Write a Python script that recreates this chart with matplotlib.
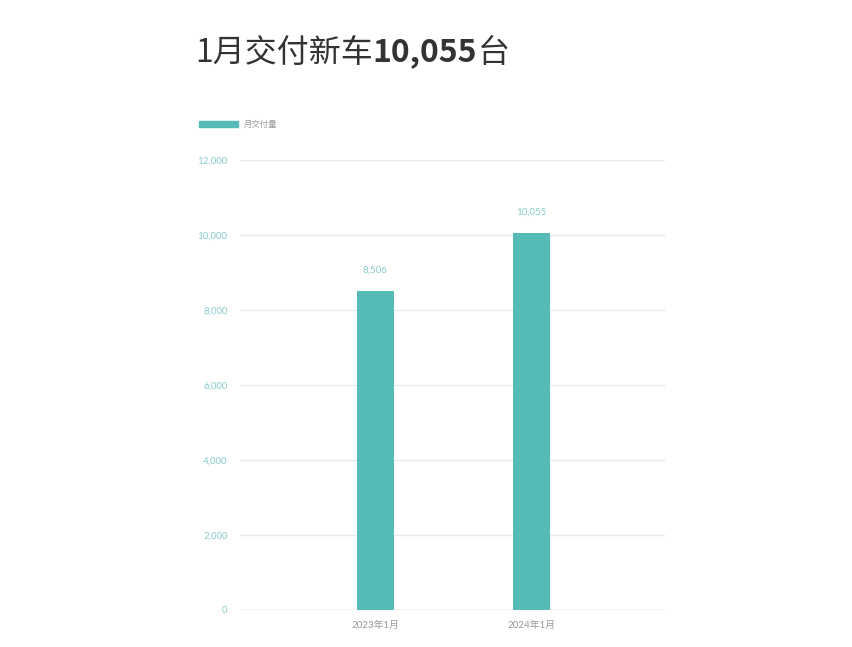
import matplotlib
matplotlib.use("Agg")
import matplotlib.pyplot as plt
from matplotlib.patches import Patch

plt.rcParams['font.family'] = ['Lato', 'Noto Sans CJK SC', 'DejaVu Sans']

# data
months = ['2023年1月', '2024年1月']
deliveries = [8506, 10055]
yticks = [0, 2000, 4000, 6000, 8000, 10000, 12000]
series_name = '月交付量'

bar_color = '#56bab7'
label_color = '#86cccb'
grid_color = '#e9e9e9'

fig = plt.figure(figsize=(8.52, 6.47), dpi=100)
ax = fig.add_axes([0.2817, 0.0572, 0.4988, 0.6955])

xpos = list(range(len(months)))
bars = ax.bar(xpos, deliveries, width=0.24, color=bar_color, zorder=3)

for x, v in zip(xpos, deliveries):
    ax.annotate(f'{v:,}', (x, v), xytext=(0, 12), textcoords='offset points',
                ha='center', va='bottom', fontsize=7, color=label_color)

ax.set_xlim(-0.866, 1.853)
ax.set_ylim(0, 12000)
ax.set_yticks(yticks)
ax.set_yticklabels([f'{t:,}' for t in yticks])
ax.set_xticks(xpos)
ax.set_xticklabels(months)
ax.tick_params(axis='y', length=0, pad=9, labelsize=7, labelcolor=label_color)
ax.tick_params(axis='x', length=0, pad=8, labelsize=7, labelcolor='#999999')
ax.grid(axis='y', color=grid_color, linewidth=1, zorder=0)
ax.axhline(0, color='#dddddd', linewidth=1, zorder=2)
for s in ax.spines.values():
    s.set_visible(False)

# legend
fig.legend(handles=[Patch(color=bar_color, label=series_name)],
           loc='center left', bbox_to_anchor=(0.225, 0.808), frameon=False,
           handlelength=4.6, handleheight=0.7, handletextpad=0.7,
           fontsize=6, labelcolor='#999999')

# title, with the number in bold
title_kw = dict(fontsize=23, color='#333333', va='bottom',
                family=['Noto Sans CJK SC', 'DejaVu Sans'])
t1 = fig.text(0.229, 0.894, '1月交付新车', **title_kw)
t2 = ax.annotate('10,055', xy=(1, 0), xycoords=t1, fontweight='bold', **title_kw)
t3 = ax.annotate('台', xy=(1, 0), xycoords=t2, **title_kw)

fig.savefig('out.png', dpi=100)
